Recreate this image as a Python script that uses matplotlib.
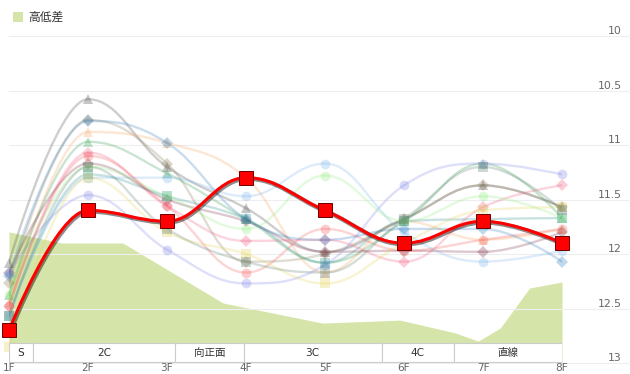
import numpy as np
import matplotlib
matplotlib.use('Agg')
import matplotlib.pyplot as plt
from matplotlib.path import Path
from matplotlib.patches import PathPatch, Rectangle
import matplotlib.patheffects as pe
import matplotlib.transforms as mtrans

plt.rcParams['font.family'] = ['DejaVu Sans', 'Noto Sans CJK JP']

furlongs = ['1F', '2F', '3F', '4F', '5F', '6F', '7F', '8F']
xs = np.arange(1, 9)

# focal horse lap times
main_laps = [12.7, 11.6, 11.7, 11.3, 11.6, 11.9, 11.7, 11.9]

# other races (faint lines)
other_laps = [
    [12.08, 10.58, 11.20, 11.58, 11.98, 11.68, 11.37, 11.57],
    [12.27, 10.77, 11.17, 12.07, 12.00, 11.68, 11.37, 11.57],
    [12.45, 10.88, 10.98, 11.30, 12.17, 11.70, 11.87, 11.77],
    [12.38, 10.97, 11.26, 11.68, 12.08, 11.70, 11.17, 11.67],
    [12.48, 11.07, 11.56, 11.88, 11.87, 12.07, 11.57, 11.37],
    [12.17, 11.17, 11.50, 11.70, 11.98, 11.97, 11.98, 11.80],
    [12.57, 11.27, 11.47, 11.68, 12.08, 11.70, 11.68, 11.67],
    [12.17, 11.46, 11.96, 12.27, 12.10, 11.37, 11.17, 11.27],
    [12.57, 11.30, 11.30, 11.47, 11.17, 11.80, 12.07, 11.97],
    [12.38, 11.20, 11.47, 11.77, 11.28, 11.70, 11.47, 11.67],
    [12.48, 11.10, 11.56, 12.17, 11.77, 11.97, 11.87, 11.77],
    [12.85, 11.30, 11.80, 12.00, 12.27, 11.90, 11.60, 11.57],
    [12.20, 10.78, 10.98, 11.68, 11.87, 11.77, 11.77, 12.07],
    [12.57, 11.20, 11.77, 12.07, 12.17, 11.68, 11.20, 11.60],
]
other_colors = ['#434348', '#8c7a55', '#f7a35c', '#2f9e4f', '#f15c80', '#7a2e45',
                '#2b908f', '#8085e9', '#7cb5ec', '#90ed7d', '#f45b5b', '#e4d354',
                '#2f7fc0', '#5f7f6f']
other_markers = ['^', 'D', '^', '^', 'D', 'D', 's', 'o', 'o', 'o', 'o', 's', 'D', 's']

# course elevation profile (m), position in furlongs
elev_x = [1.0, 1.67, 2.44, 3.71, 4.97, 5.95, 6.49, 6.65, 6.94, 7.22, 7.59, 8.0]
elev_h = [4.37, 4.0, 4.0, 2.0, 1.33, 1.43, 1.1, 1.0, 0.73, 1.17, 2.5, 2.7]

# course sections (start, end, label)
sec_edges = [1.0, 1.30, 3.10, 3.97, 5.72, 6.63, 8.0]
sec_labels = ['S', '2C', '向正面', '3C', '4C', '直線']

yticks = [10, 10.5, 11, 11.5, 12, 12.5, 13]


def spline_path(px, py):
    pts = list(zip(px, py))
    n = len(pts)
    left = list(pts)
    right = list(pts)
    s = 1.5
    for i in range(1, n - 1):
        x, y = pts[i]
        lx, ly = pts[i - 1]
        nx, ny = pts[i + 1]
        lcx = (s * x + lx) / (s + 1)
        lcy = (s * y + ly) / (s + 1)
        rcx = (s * x + nx) / (s + 1)
        rcy = (s * y + ny) / (s + 1)
        corr = ((rcy - lcy) * (rcx - x)) / (rcx - lcx) + y - rcy
        lcy += corr
        rcy += corr
        if lcy > ly and lcy > y:
            lcy = max(ly, y); rcy = 2 * y - lcy
        elif lcy < ly and lcy < y:
            lcy = min(ly, y); rcy = 2 * y - lcy
        if rcy > ny and rcy > y:
            rcy = max(ny, y); lcy = 2 * y - rcy
        elif rcy < ny and rcy < y:
            rcy = min(ny, y); lcy = 2 * y - rcy
        left[i] = (lcx, lcy)
        right[i] = (rcx, rcy)
    verts = [pts[0]]
    codes = [Path.MOVETO]
    for i in range(1, n):
        verts += [right[i - 1], left[i], pts[i]]
        codes += [Path.CURVE4] * 3
    return Path(verts, codes)


fig = plt.figure(figsize=(6.3, 3.74), dpi=100)
rect = [9 / 630, 11 / 374, 553 / 630, 327 / 374]

ax_el = fig.add_axes(rect)
ax_el.set_xlim(1, 8)
ax_el.set_ylim(0, 10.9)
ax_el.fill_between(elev_x, elev_h, 0, color='#d5e5aa', lw=0)
ax_el.axis('off')

ax = ax_el.twinx()
ax.set_xlim(1, 8)
ax.set_ylim(13, 10)
ax.patch.set_visible(False)
for sp in ax.spines.values():
    sp.set_visible(False)
ax.set_yticks([])
ax.xaxis.set_visible(True)
ax.set_xticks(xs)
ax.set_xticklabels(furlongs)
ax.tick_params(axis='x', bottom=True, labelbottom=True, length=0, pad=0,
               labelsize=7.6, labelcolor='#666666')

bl = mtrans.blended_transform_factory(ax.transAxes, ax.transData)
for v in yticks:
    ax.plot([0, 1.12], [v, v], color='#eeeeee', lw=0.8, transform=bl,
            clip_on=False, zorder=0)
    ax.text(1.1085, v - 0.015, '{:g}'.format(v), transform=bl, ha='right',
            va='baseline', fontsize=7.8, color='#666666')

for laps, c, m in zip(other_laps, other_colors, other_markers):
    ax.add_patch(PathPatch(spline_path(xs, laps), fc='none', ec=c, lw=1.7,
                           alpha=0.26, capstyle='round', zorder=2))
    ax.plot(xs, laps, ls='none', marker=m, ms=6.0 if m == 'D' else 7.0,
            color=c, alpha=0.3, mew=0, clip_on=False, zorder=3)

ax.add_patch(PathPatch(spline_path(xs, main_laps), fc='none', ec='#ff0000', lw=2.2,
                       zorder=5, capstyle='round',
                       path_effects=[pe.SimpleLineShadow(offset=(0.8, -0.8),
                                                         shadow_color='k', alpha=0.45,
                                                         linewidth=3.2),
                                     pe.Normal()]))
ax.plot(xs, main_laps, ls='none', marker='s', ms=9.5, color='#ff0000',
        mec='#6b0000', mew=0.7, clip_on=False, zorder=6)

# section band
for i, lab in enumerate(sec_labels):
    x0, x1 = sec_edges[i], sec_edges[i + 1]
    ax.add_patch(Rectangle((x0, 12.815), x1 - x0, 0.18, fc='white', ec='#cccccc',
                           lw=0.8, zorder=8))
    ax.text((x0 + x1) / 2, 12.905, lab, ha='center', va='center', fontsize=7.6,
            color='#333333', zorder=9)

# legend
fig.patches.append(Rectangle((13 / 630, 1 - 22 / 374), 10 / 630, 10 / 374,
                             transform=fig.transFigure, fc='#d5e5aa', ec='none'))
fig.text(28 / 630, 1 - 17.5 / 374, '高低差', ha='left', va='center', fontsize=8.5,
         color='#333333')

fig.savefig('out.png', dpi=100)
